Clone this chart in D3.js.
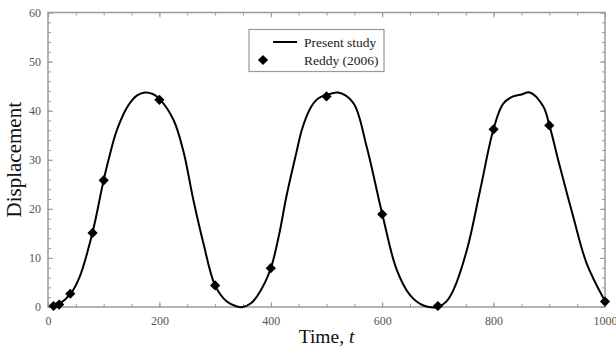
<!DOCTYPE html>
<html>
<head>
<meta charset="utf-8">
<script src="https://cdn.jsdelivr.net/npm/d3@7/dist/d3.min.js"></script>
<style>
  html, body { margin: 0; padding: 0; background: #fff; }
  svg { display: block; }
  text { font-family: "Liberation Serif", "Times New Roman", serif; }
</style>
</head>
<body>
<svg id="chart" width="616" height="349"></svg>
<script>
// Present study: computed displacement history
const studyTime = [5, 10, 20, 40, 57, 80, 100, 111, 120, 129, 140, 150, 160, 174, 188, 200, 225, 243, 261, 279, 300, 321, 339, 350, 365, 380, 400, 415, 428, 446, 455, 464, 473, 482, 490, 500, 521, 548, 572, 600, 626, 650, 674, 700, 715, 728, 752, 776, 800, 817, 835, 850, 865, 889, 900, 919, 943, 967, 1000];
const studyDisp = [0, 0.1, 0.6, 2.6, 6.2, 15.2, 25.9, 31.0, 34.8, 37.6, 40.3, 42.0, 43.1, 43.7, 43.4, 42.4, 38.2, 31.8, 21.8, 13, 4.4, 1.1, 0.1, 0, 0.8, 3.0, 7.9, 14.8, 22.5, 31.5, 35.8, 38.8, 40.9, 42.2, 42.8, 43.2, 43.7, 41.6, 32.7, 19, 7.6, 2.4, 0.3, 0, 1.1, 3.5, 11.6, 23.9, 36.3, 41.4, 42.9, 43.3, 43.7, 40.9, 37.1, 28.6, 18.4, 8.9, 1.2];

// Reddy (2006) reference values
const refTime = [10, 20, 40, 80, 100, 200, 300, 400, 500, 600, 700, 800, 900, 1000];
const refDisp = [0.2, 0.5, 2.7, 15.1, 25.8, 42.2, 4.4, 7.9, 42.9, 18.9, 0.2, 36.2, 37.0, 1.1];

const xTicks = [0, 200, 400, 600, 800, 1000];
const yTicks = [0, 10, 20, 30, 40, 50, 60];
const legendLabels = ["Present study", "Reddy (2006)"];

const svg = d3.select("#chart");
const W = 616, H = 349;
const m = { left: 48, right: 11, top: 12.5, bottom: 42 };

const x = d3.scaleLinear().domain([0, 1000]).range([m.left, W - m.right]);
const y = d3.scaleLinear().domain([0, 60]).range([H - m.bottom, m.top]);

const axisColor = "#9a9a9a";
const labelColor = "#555";
const serif = "'Liberation Serif', 'Times New Roman', serif";

// minor + major ticks, pointing inward, on all four sides
function styleAxis(g) {
  g.attr("font-family", serif).attr("font-size", 12);
  g.select(".domain").remove();
  g.selectAll(".tick line").attr("stroke", axisColor).attr("stroke-width", 1);
  g.selectAll(".tick text").attr("fill", labelColor);
}

const xMinor = d3.range(0, 1001, 50);
const yMinor = d3.range(0, 61, 2);

// bottom
svg.append("g").attr("transform", `translate(0,${y(0)})`)
  .call(d3.axisBottom(x).tickValues(xMinor).tickSize(-3).tickFormat(""))
  .call(styleAxis);
svg.append("g").attr("transform", `translate(0,${y(0)})`)
  .call(d3.axisBottom(x).tickValues(xTicks).tickSize(-5).tickPadding(9).tickFormat(d3.format("d")))
  .call(styleAxis);
// top
svg.append("g").attr("transform", `translate(0,${y(60)})`)
  .call(d3.axisTop(x).tickValues(xMinor).tickSize(-3).tickFormat(""))
  .call(styleAxis);
svg.append("g").attr("transform", `translate(0,${y(60)})`)
  .call(d3.axisTop(x).tickValues(xTicks).tickSize(-5).tickFormat(""))
  .call(styleAxis);
// left
svg.append("g").attr("transform", `translate(${x(0)},0)`)
  .call(d3.axisLeft(y).tickValues(yMinor).tickSize(-3).tickFormat(""))
  .call(styleAxis);
svg.append("g").attr("transform", `translate(${x(0)},0)`)
  .call(d3.axisLeft(y).tickValues(yTicks).tickSize(-5).tickPadding(7).tickFormat(d3.format("d")))
  .call(styleAxis);
// right
svg.append("g").attr("transform", `translate(${x(1000)},0)`)
  .call(d3.axisRight(y).tickValues(yMinor).tickSize(-3).tickFormat(""))
  .call(styleAxis);
svg.append("g").attr("transform", `translate(${x(1000)},0)`)
  .call(d3.axisRight(y).tickValues(yTicks).tickSize(-5).tickFormat(""))
  .call(styleAxis);

// frame
svg.append("rect")
  .attr("x", x(0)).attr("y", y(60))
  .attr("width", x(1000) - x(0)).attr("height", y(0) - y(60))
  .attr("fill", "none").attr("stroke", axisColor).attr("stroke-width", 1.5);

// curve
const line = d3.line()
  .x((d, i) => x(studyTime[i]))
  .y((d, i) => y(Math.max(0, studyDisp[i])))
  .curve(d3.curveCatmullRom.alpha(0.5));

svg.append("path")
  .attr("d", line(studyDisp))
  .attr("fill", "none").attr("stroke", "#000").attr("stroke-width", 2);

// reference markers
const diamond = d3.symbol().type(d3.symbolSquare).size(52);
svg.append("g").selectAll("path")
  .data(refTime)
  .join("path")
  .attr("d", diamond)
  .attr("transform", (d, i) => `translate(${x(d)},${y(refDisp[i])}) rotate(45)`)
  .attr("fill", "#000");

// axis titles
svg.append("text")
  .attr("x", (x(0) + x(1000)) / 2).attr("y", 343)
  .attr("text-anchor", "middle").style("font-size", "19.5px").attr("fill", "#111")
  .call(t => {
    t.append("tspan").text("Time, ");
    t.append("tspan").style("font-style", "italic").text("t");
  });

svg.append("text")
  .attr("transform", `translate(21,${(y(0) + y(60)) / 2}) rotate(-90)`)
  .attr("text-anchor", "middle").style("font-size", "21px").attr("fill", "#111")
  .text("Displacement");

// legend
const lg = svg.append("g");
lg.append("rect").attr("x", 249).attr("y", 29.5).attr("width", 135).attr("height", 42)
  .attr("fill", "#fff").attr("stroke", axisColor).attr("stroke-width", 1.2);
lg.append("line").attr("x1", 273).attr("x2", 297).attr("y1", 42).attr("y2", 42)
  .attr("stroke", "#000").attr("stroke-width", 2);
lg.append("path").attr("d", diamond).attr("transform", "translate(263,60) rotate(45)").attr("fill", "#000");
lg.selectAll("text.lbl").data(legendLabels).join("text").attr("class", "lbl")
  .attr("x", 304).attr("y", (d, i) => 46.5 + i * 18.5)
  .style("font-size", "13.5px").attr("fill", "#222").text(d => d);
</script>
</body>
</html>
